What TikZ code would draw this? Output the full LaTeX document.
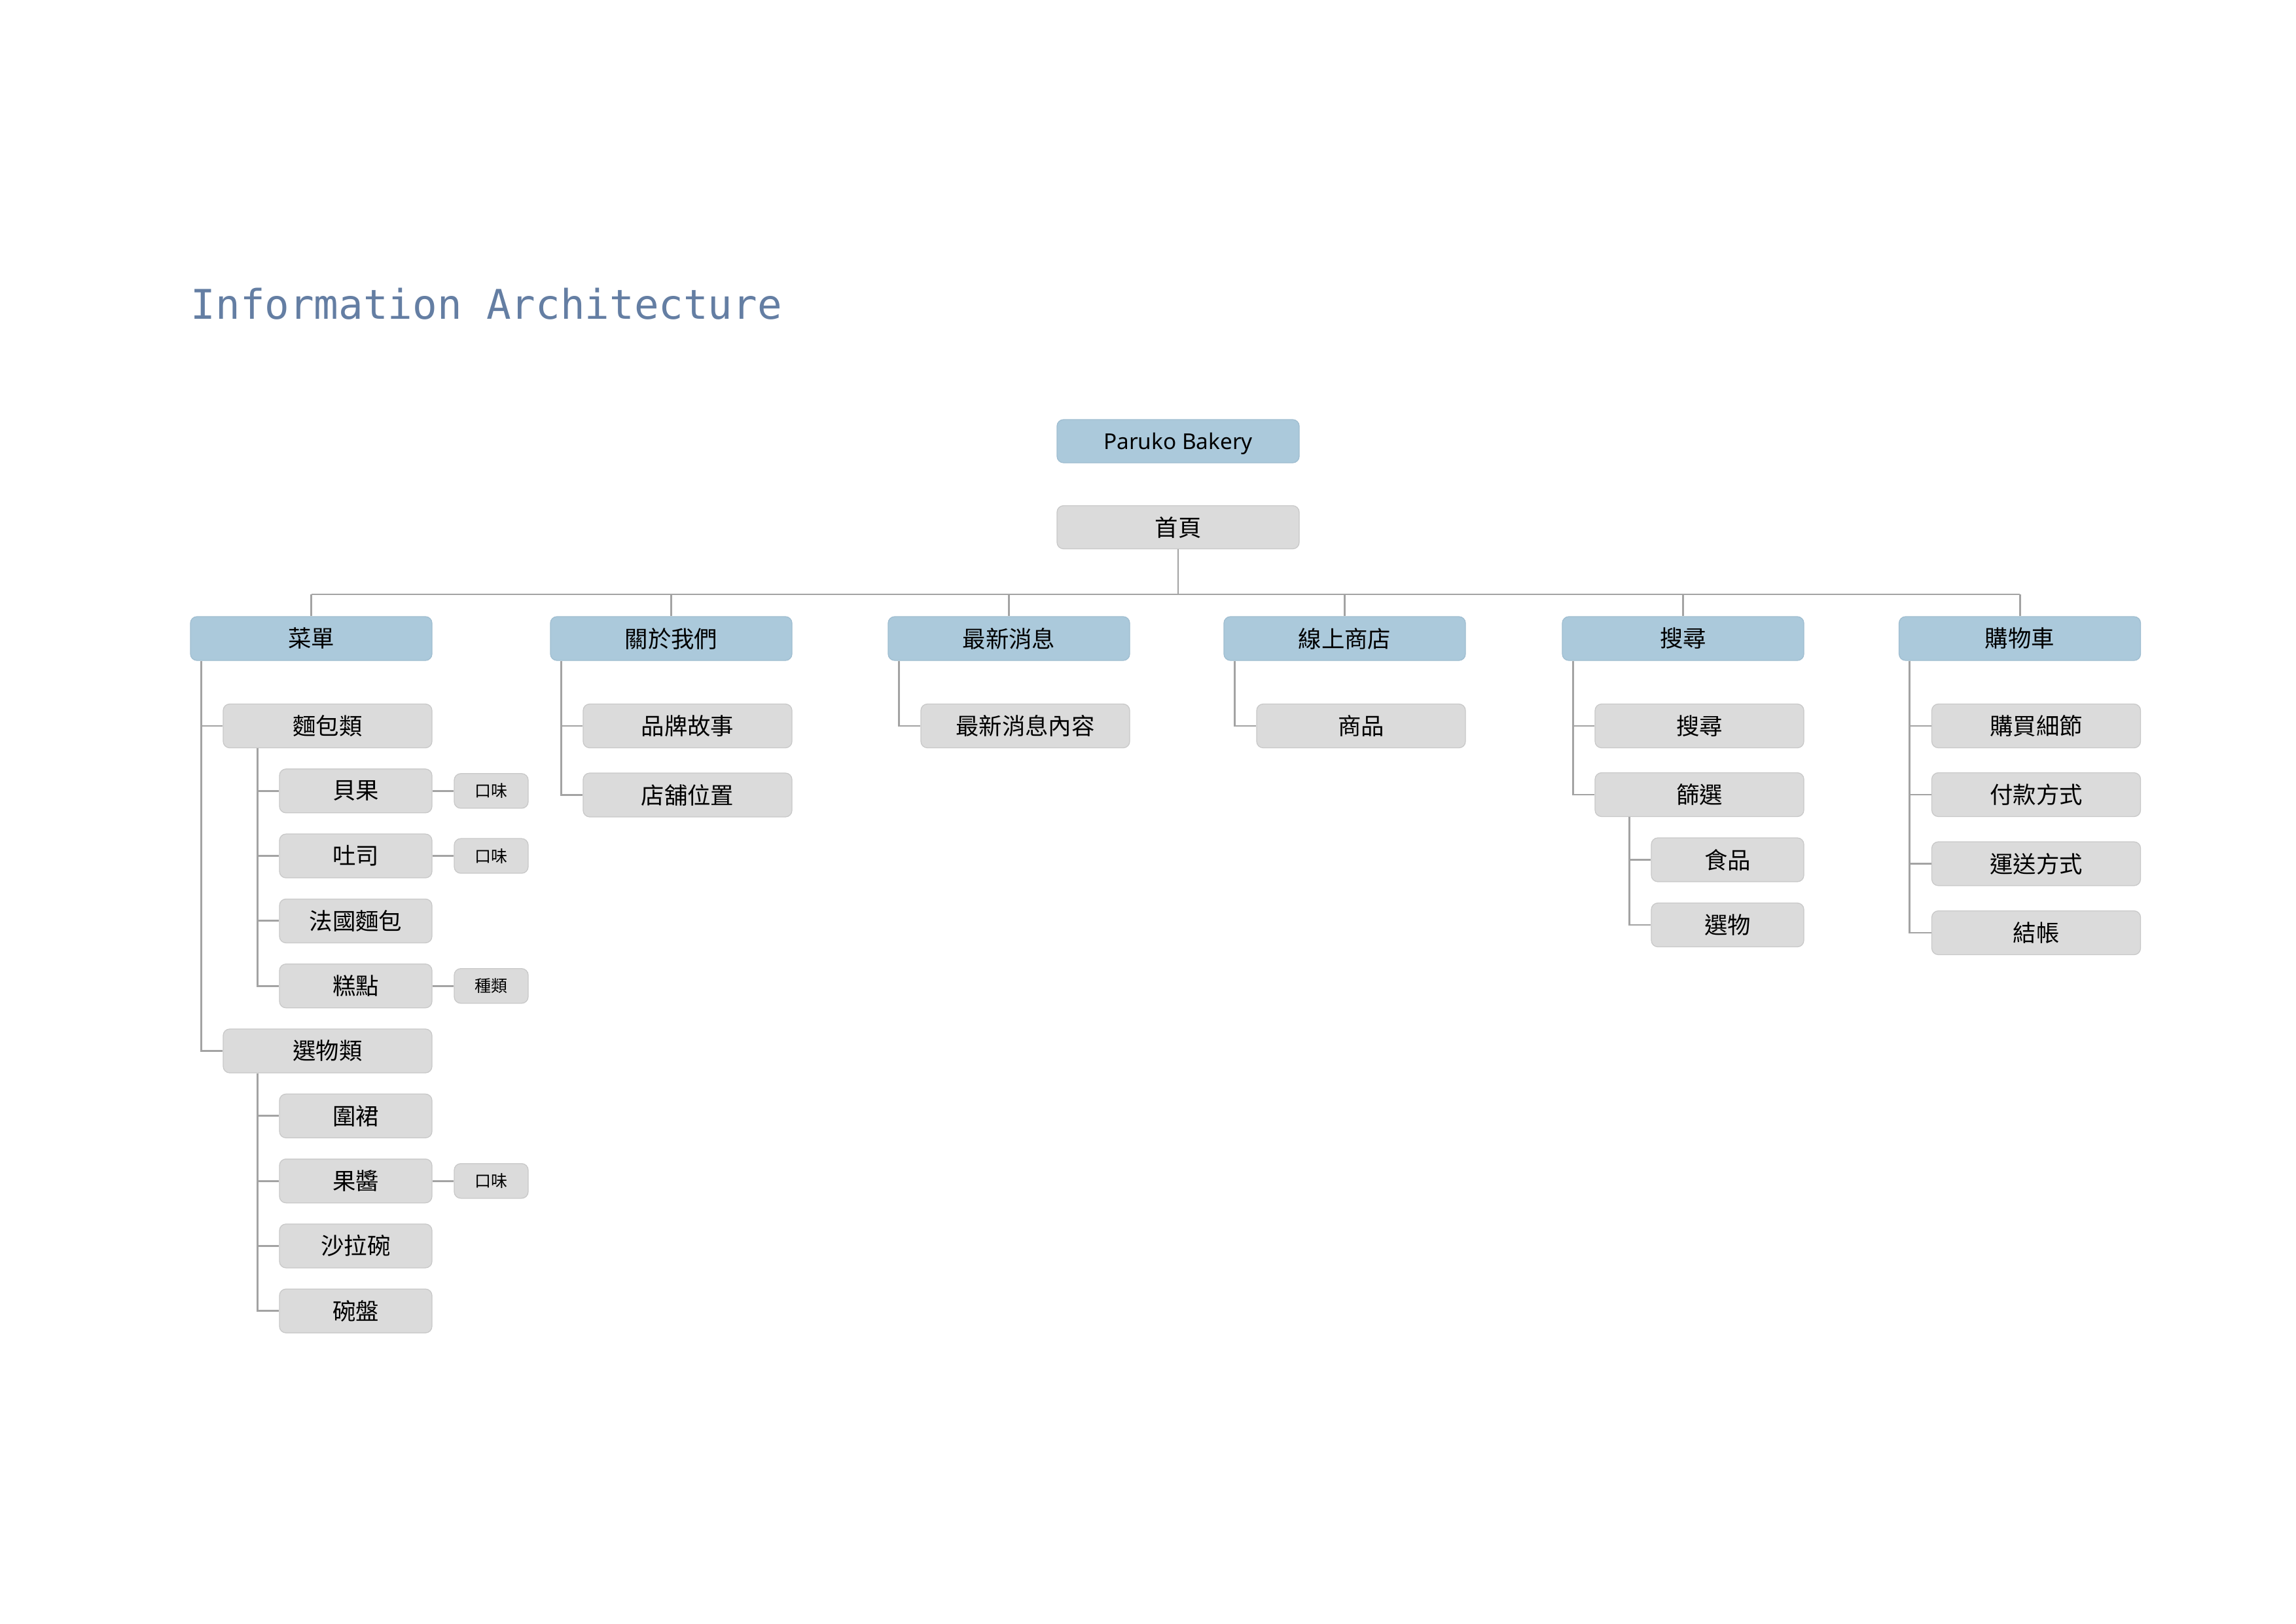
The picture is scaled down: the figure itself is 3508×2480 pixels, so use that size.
\documentclass[tikz,border=0pt]{standalone}
\usepackage{fontspec}
\setmainfont{Noto Sans CJK TC}
\newfontfamily\latinfont{Noto Sans}
\newfontfamily\titlefont{DejaVu Sans Mono}
\newlength\pxu
\setlength\pxu{0.24pt}
\definecolor{topblue}{HTML}{ABC9DB}
\definecolor{topblueborder}{HTML}{9FBDD0}
\definecolor{boxgray}{HTML}{DBDBDB}
\definecolor{boxborder}{HTML}{C8C8C8}
\definecolor{linegray}{HTML}{A3A3A3}
\definecolor{titleblue}{HTML}{647EA3}
\begin{document}
\begin{tikzpicture}[x=0.24pt,y=-0.24pt,
  base/.style={rounded corners=2.4pt, inner sep=0pt, minimum height=67\pxu,
    font=\fontsize{8.5}{10}\selectfont, text=black, line width=0.3pt},
  topbox/.style={base, fill=topblue, draw=topblueborder, minimum width=369\pxu},
  graybox/.style={base, fill=boxgray, draw=boxborder},
  lvtwo/.style={graybox, minimum width=319\pxu},
  lvthree/.style={graybox, minimum width=233\pxu},
  tagbox/.style={graybox, minimum width=113\pxu, minimum height=53\pxu, font=\fontsize{6}{7}\selectfont},
  link/.style={draw=linegray, line width=0.7pt},
]
\fill[white] (0,0) rectangle (3508,2480);
\useasboundingbox (0,0) rectangle (3508,2480);

\node[anchor=base west, inner sep=0pt, text=titleblue, font=\titlefont\fontsize{15}{18}\selectfont] (title) at (291,487) {Information Architecture};

% root and home
\node[topbox, minimum width=370\pxu, minimum height=66\pxu, text depth=0pt, font=\latinfont\fontsize{8}{10}\selectfont] (root) at (1800,674) {Paruko Bakery};
\node[graybox, minimum width=370\pxu, minimum height=66\pxu] (home) at (1800,805.5) {首頁};

% top level
\node[topbox] (menu)   at (475.5,975.5)  {菜單};
\node[topbox] (about)  at (1025.5,975.5) {關於我們};
\node[topbox] (news)   at (1541.5,975.5) {最新消息};
\node[topbox] (shop)   at (2054.5,975.5) {線上商店};
\node[topbox] (search) at (2571.5,975.5) {搜尋};
\node[topbox] (cart)   at (3086,975.5)   {購物車};

% bus
\coordinate (bus) at (1800,908);
\draw[link] (home.south) -- (bus);
\draw[link] (menu.north |- bus) -- (cart.north |- bus);
\foreach \n in {menu,about,news,shop,search,cart}{
  \draw[link] (\n.north |- bus) -- (\n.north);
}

% menu column
\node[lvtwo]   (bread)   at (500.5,1109)   {麵包類};
\node[lvthree] (bagel)   at (543.5,1208.3) {貝果};
\node[lvthree] (toast)   at (543.5,1307.6) {吐司};
\node[lvthree] (french)  at (543.5,1406.9) {法國麵包};
\node[lvthree] (cake)    at (543.5,1506.2) {糕點};
\node[lvtwo]   (goods)   at (500.5,1605.5) {選物類};
\node[lvthree] (apron)   at (543.5,1704.8) {圍裙};
\node[lvthree] (jam)     at (543.5,1804.1) {果醬};
\node[lvthree] (salad)   at (543.5,1903.4) {沙拉碗};
\node[lvthree] (plate)   at (543.5,2002.7) {碗盤};
\node[tagbox]  (bagelt)  at (750.5,1208.3) {口味};
\node[tagbox]  (toastt)  at (750.5,1307.6) {口味};
\node[tagbox]  (caket)   at (750.5,1506.2) {種類};
\node[tagbox]  (jamt)    at (750.5,1804.1) {口味};

\foreach \c in {bread,goods}{
  \draw[link] ([xshift=17\pxu]menu.south west) |- (\c.west);
}
\foreach \c in {bagel,toast,french,cake}{
  \draw[link] ([xshift=53\pxu]bread.south west) |- (\c.west);
}
\foreach \c in {apron,jam,salad,plate}{
  \draw[link] ([xshift=53\pxu]goods.south west) |- (\c.west);
}
\draw[link] (bagel.east) -- (bagelt.west);
\draw[link] (toast.east) -- (toastt.west);
\draw[link] (cake.east) -- (caket.west);
\draw[link] (jam.east) -- (jamt.west);

% about column
\node[lvtwo] (story) at (1050.5,1109)   {品牌故事};
\node[lvtwo] (store) at (1050.5,1214.5) {店舖位置};
\foreach \c in {story,store}{
  \draw[link] ([xshift=17\pxu]about.south west) |- (\c.west);
}

% news column
\node[lvtwo] (newsc) at (1566.5,1109) {最新消息內容};
\draw[link] ([xshift=17\pxu]news.south west) |- (newsc.west);

% shop column
\node[lvtwo] (product) at (2079.5,1109) {商品};
\draw[link] ([xshift=17\pxu]shop.south west) |- (product.west);

% search column
\node[lvtwo]   (searchc) at (2596.5,1109)   {搜尋};
\node[lvtwo]   (filter)  at (2596.5,1214)   {篩選};
\node[lvthree] (food)    at (2639.5,1313.5) {食品};
\node[lvthree] (pick)    at (2639.5,1413)   {選物};
\foreach \c in {searchc,filter}{
  \draw[link] ([xshift=17\pxu]search.south west) |- (\c.west);
}
\foreach \c in {food,pick}{
  \draw[link] ([xshift=53\pxu]filter.south west) |- (\c.west);
}

% cart column
\node[lvtwo] (detail)  at (3111,1109)   {購買細節};
\node[lvtwo] (pay)     at (3111,1214)   {付款方式};
\node[lvtwo] (ship)    at (3111,1319.5) {運送方式};
\node[lvtwo] (checkout) at (3111,1425)  {結帳};
\foreach \c in {detail,pay,ship,checkout}{
  \draw[link] ([xshift=17\pxu]cart.south west) |- (\c.west);
}
\end{tikzpicture}
\end{document}
